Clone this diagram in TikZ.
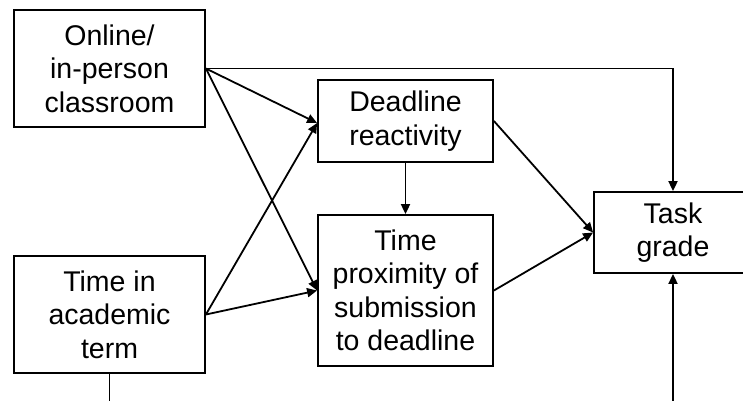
\documentclass[tikz,border=0pt]{standalone}
\usepackage{fontspec}
\setmainfont{Liberation Sans}
\usetikzlibrary{arrows.meta}
\begin{document}
\begin{tikzpicture}[x=1pt,y=-1pt,
  box/.style={draw=black,line width=1.8pt,fill=white,align=center,inner sep=0pt,
    font=\fontsize{28.5}{33.5}\selectfont},
  arr/.style={line width=1.8pt,-{Triangle[length=10pt,width=9pt]}},
  ln/.style={line width=1.8pt}]
\clip (0,0) rectangle (743,400);
\fill[white] (0,0) rectangle (743,400);
\node[box,minimum width=191pt,minimum height=117pt] (online) at (109.5,68.5) {Online/\\in-person\\classroom};
\node[box,minimum width=191pt,minimum height=117pt] (term) at (109.5,314.5) {Time in\\academic\\term};
\node[box,minimum width=175pt,minimum height=82pt] (react) at (405.5,121) {Deadline\\reactivity};
\node[box,minimum width=175pt,minimum height=151pt] (prox) at (405.5,290.5) {Time\\proximity of\\submission\\to deadline};
\node[box,minimum width=158pt,minimum height=81pt] (task) at (673,232.5) {Task\\grade};
\coordinate (corner) at (task.north |- online.east);
\coordinate (bottomL) at (term.south |- 0,410);
\coordinate (bottomR) at (task.south |- 0,410);
\draw[arr] (online.east) -- (corner) -- (task.north);
\draw[arr] (online.east) -- ([yshift=-2pt]react.west);
\draw[arr] (online.east) -- (prox.west);
\draw[arr] (term.east) -- ([yshift=-2pt]react.west);
\draw[arr] (term.east) -- (prox.west);
\draw[arr] (react.south) -- (prox.north);
\draw[arr] (react.east) -- (task.west);
\draw[arr] (prox.east) -- (task.west);
\draw[ln] (term.south) -- (bottomL);
\draw[arr] (bottomR) -- (task.south);
\end{tikzpicture}
\end{document}
